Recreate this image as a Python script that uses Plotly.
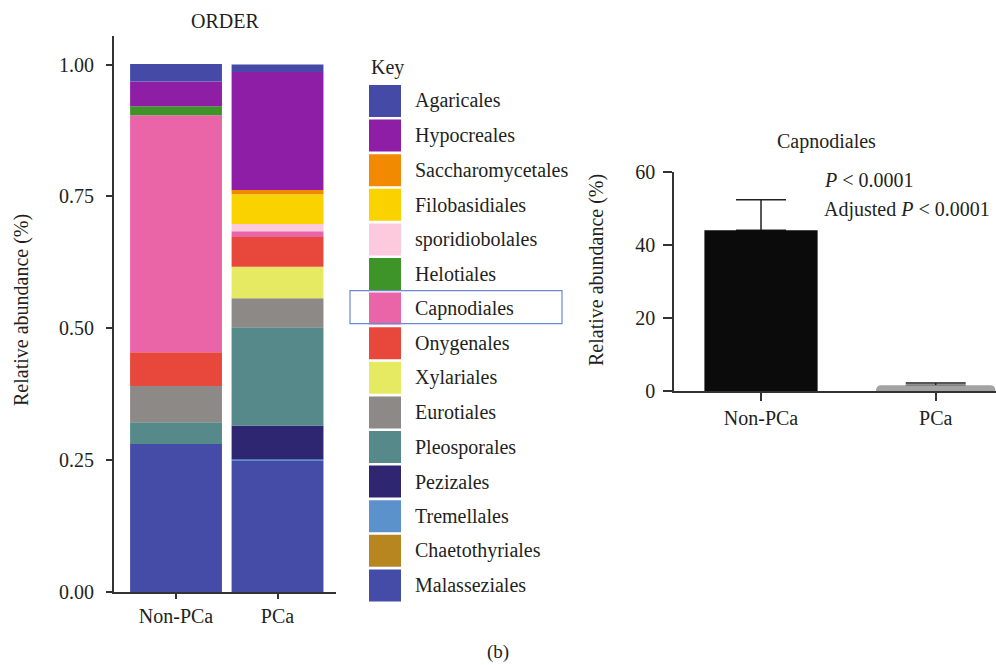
import numpy as np
import plotly.graph_objects as go

# ---------------- data ----------------
groups = ["Non-PCa", "PCa"]
orders = ["Malasseziales", "Chaetothyriales", "Tremellales", "Pezizales",
          "Pleosporales", "Eurotiales", "Xylariales", "Onygenales",
          "Capnodiales", "Helotiales", "sporidiobolales", "Filobasidiales",
          "Saccharomycetales", "Hypocreales", "Agaricales"]
non_pca = [0.281, 0.0, 0.0, 0.0, 0.041, 0.069, 0.0, 0.064,
           0.449, 0.017, 0.0, 0.0, 0.0, 0.047, 0.033]
pca = [0.249, 0.0, 0.003, 0.064, 0.186, 0.055, 0.060, 0.056,
       0.011, 0.0, 0.014, 0.056, 0.008, 0.224, 0.014]
order_colors = ["#454ca8", "#b88620", "#5c92cb", "#2e2670", "#568a8a",
                "#8c8986", "#e6ea62", "#e8473c", "#ea65a8", "#3e9428",
                "#fccadc", "#f9d200", "#f18a00", "#8e1ea5", "#444aa6"]
left_yticks = [0.0, 0.25, 0.5, 0.75, 1.0]
left_yticktext = ["0.00", "0.25", "0.50", "0.75", "1.00"]

capn_groups = ["Non-PCa", "PCa"]
capn_mean = [44.0, 1.6]
capn_err = [8.3, 0.6]
capn_colors = ["#0b0b0b", "#a3a3a3"]
right_yticks = [0, 20, 40, 60]

# ---------------- layout helpers ----------------
W, H = 996, 665
FONT = "Liberation Serif"
TXT = "#231f20"
AX = "#333333"


def px(x):
    return x / W


def py(y):
    return 1 - y / H


fig = go.Figure()

# ---------------- left stacked bars ----------------
vals = np.array([non_pca, pca])  # shape (2, n)
bases = np.cumsum(vals, axis=1) - vals
for i, name in enumerate(orders):
    fig.add_trace(go.Bar(
        x=groups, y=vals[:, i], base=bases[:, i], name=name,
        marker=dict(color=order_colors[i], line=dict(width=0)),
        width=0.905, xaxis="x", yaxis="y", showlegend=False,
    ))

# ---------------- right bar chart ----------------
widths = [0.648, 0.683]
caps = [25, 30]
for j in range(2):
    # carrier for the upward error bar (drawn underneath the visible bar)
    fig.add_trace(go.Bar(
        x=[capn_groups[j]], y=[capn_mean[j]], width=widths[j],
        marker=dict(color="rgba(0,0,0,0)", line=dict(width=0)),
        error_y=dict(type="data", symmetric=False, array=[capn_err[j]],
                     arrayminus=[0], color=TXT, thickness=1.5, width=caps[j]),
        xaxis="x2", yaxis="y2", showlegend=False,
    ))
    fig.add_trace(go.Bar(
        x=[capn_groups[j]], y=[capn_mean[j]], width=widths[j],
        marker=dict(color=capn_colors[j], line=dict(width=0),
                    cornerradius=(0 if j == 0 else 5)),
        xaxis="x2", yaxis="y2", showlegend=False,
    ))

# ---------------- axes ----------------
tickfont = dict(family=FONT, size=20, color=TXT)
fig.update_layout(
    width=W, height=H, autosize=False,
    margin=dict(l=0, r=0, t=0, b=0, pad=0, autoexpand=False),
    paper_bgcolor="white", plot_bgcolor="white",
    barmode="overlay",
    font=dict(family=FONT, size=20, color=TXT),
    xaxis=dict(domain=[px(114), px(336)], range=[-0.611, 1.576],
               showline=True, linecolor=AX, linewidth=2,
               ticks="outside", ticklen=5, tickwidth=1.5, tickcolor=AX,
               tickfont=tickfont, showgrid=False, zeroline=False,
               automargin=False),
    yaxis=dict(domain=[py(592.3), py(36)], range=[0, 1.054],
               tickvals=left_yticks, ticktext=left_yticktext,
               showline=True, linecolor=AX, linewidth=2,
               ticks="outside", ticklen=6, tickwidth=1.5, tickcolor=AX,
               tickfont=tickfont, ticklabelstandoff=8,
               showgrid=False, zeroline=False, automargin=False),
    xaxis2=dict(domain=[px(674), 1.0], range=[-0.498, 1.345],
                anchor="y2",
                showline=True, linecolor=AX, linewidth=1.5,
                ticks="outside", ticklen=8, tickwidth=1.5, tickcolor=AX,
                tickfont=tickfont, showgrid=False, zeroline=False,
                automargin=False),
    yaxis2=dict(domain=[py(391), py(171.7)], range=[0, 60], anchor="x2",
                tickvals=right_yticks,
                showline=True, linecolor=AX, linewidth=1.5,
                ticks="outside", ticklen=9, tickwidth=1.5, tickcolor=AX,
                tickfont=tickfont, ticklabelstandoff=4,
                showgrid=False, zeroline=False, automargin=False),
)

# ---------------- texts ----------------
ann = []


def text(x, y, s, xanchor="center", size=20, angle=0):
    ann.append(dict(x=px(x), y=py(y), xref="paper", yref="paper", text=s,
                    showarrow=False, xanchor=xanchor, yanchor="middle",
                    textangle=angle,
                    font=dict(family=FONT, size=size, color=TXT)))


text(225, 21, "ORDER")
text(21, 310, "Relative abundance (%)", angle=-90)
text(826, 142, "Capnodiales")
text(596, 270, "Relative abundance (%)", angle=-90)
text(822, 180, "<i>P</i> &lt; 0.0001", xanchor="left")
text(822, 209, "Adjusted <i>P</i> &lt; 0.0001", xanchor="left")
text(498, 652, "(b)", size=19)
text(369, 67, "Key", xanchor="left")

# ---------------- legend (Key) ----------------
shapes = []
legend_items = list(zip(orders, order_colors))[::-1]
for k, (name, col) in enumerate(legend_items):
    y0 = 85 + k * 34.6
    shapes.append(dict(type="rect", xref="paper", yref="paper",
                       x0=px(369), x1=px(401), y0=py(y0), y1=py(y0 + 32),
                       fillcolor=col, line=dict(width=0)))
    text(413, y0 + 16, name, xanchor="left")
    if name == "Capnodiales":
        shapes.append(dict(type="rect", xref="paper", yref="paper",
                           x0=px(350), x1=px(562), y0=py(y0 - 2),
                           y1=py(y0 + 31),
                           fillcolor="rgba(0,0,0,0)",
                           line=dict(color="#6a8ad0", width=1.2)))

fig.update_layout(annotations=ann, shapes=shapes)
fig.write_html("out.html",
               config={"displayModeBar": False},
               post_script="document.body.style.margin='0px';")
